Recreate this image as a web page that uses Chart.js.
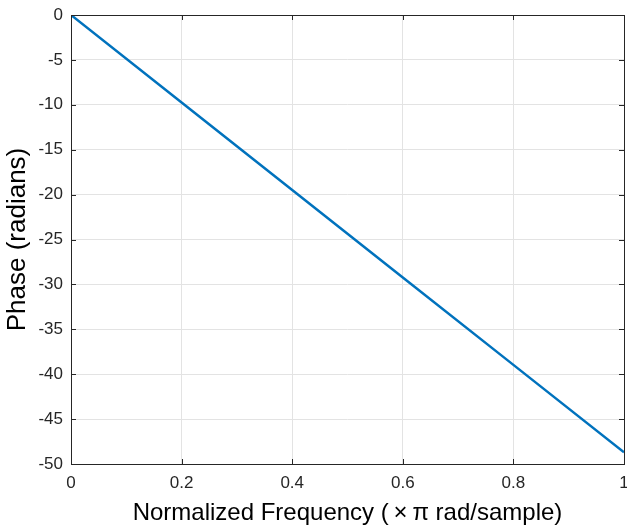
<!DOCTYPE html>
<html>
<head>
<meta charset="utf-8">
<script src="https://cdn.jsdelivr.net/npm/chart.js@4.4.1/dist/chart.umd.min.js"></script>
<style>
  html, body { margin: 0; padding: 0; background: #fff; }
  #wrap { width: 627px; height: 529px; }
</style>
</head>
<body>
<div id="wrap"><canvas id="phase-chart" width="627" height="529"></canvas></div>
<script>
// normalized frequency (x pi rad/sample) and phase
const freq = [0, 0.2, 0.4, 0.6, 0.8, 1.0];
const phase = [0, -9.74, -19.48, -29.22, -38.96, -48.69];
const xTicks = [0, 0.2, 0.4, 0.6, 0.8, 1];
const yTicks = [0, -5, -10, -15, -20, -25, -30, -35, -40, -45, -50];

const font = 'Liberation Sans, Arial, Helvetica, sans-serif';

// box + inward ticks like matlab
const boxTicks = {
  id: 'boxTicks',
  afterDraw(chart) {
    const { ctx, chartArea: a, scales } = chart;
    ctx.save();
    ctx.strokeStyle = '#262626';
    ctx.lineWidth = 1;
    ctx.beginPath();
    xTicks.forEach(v => {
      const px = Math.round(scales.x.getPixelForValue(v)) + 0.5;
      ctx.moveTo(px, a.bottom); ctx.lineTo(px, a.bottom - 5);
      ctx.moveTo(px, a.top); ctx.lineTo(px, a.top + 5);
    });
    yTicks.forEach(v => {
      const py = Math.round(scales.y.getPixelForValue(v)) + 0.5;
      ctx.moveTo(a.left, py); ctx.lineTo(a.left + 5, py);
      ctx.moveTo(a.right, py); ctx.lineTo(a.right - 5, py);
    });
    ctx.stroke();
    ctx.strokeRect(Math.round(a.left) + 0.5, Math.round(a.top) + 0.5,
      Math.round(a.right - a.left), Math.round(a.bottom - a.top));
    ctx.restore();
  }
};

const ctx = document.getElementById('phase-chart').getContext('2d');
const myChart = new Chart(ctx, {
  type: 'scatter',
  data: {
    datasets: [{
      data: freq.map((f, i) => ({ x: f, y: phase[i] })),
      showLine: true,
      borderColor: 'rgb(0,114,189)',
      borderWidth: 2.5,
      pointRadius: 0,
      fill: false
    }]
  },
  options: {
    responsive: false,
    animation: false,
    layout: { padding: { top: 15, right: 3, left: 0, bottom: 0 } },
    plugins: { legend: { display: false }, tooltip: { enabled: false } },
    scales: {
      x: {
        type: 'linear',
        min: 0, max: 1,
        afterBuildTicks: s => { s.ticks = xTicks.map(v => ({ value: v })); },
        afterFit: s => { s.height = 65; s.paddingLeft = 0; s.paddingRight = 0; },
        grid: { color: '#e3e3e3', drawTicks: false },
        border: { display: false },
        ticks: {
          color: '#262626',
          font: { family: font, size: 17 },
          padding: 9,
          maxRotation: 0,
          callback: v => String(v)
        },
        title: {
          display: true,
          text: 'Normalized Frequency (\u2009×\u2009π rad/sample)',
          color: '#000',
          font: { family: font, size: 24 },
          padding: { top: 0, bottom: 1 }
        }
      },
      y: {
        type: 'linear',
        min: -50, max: 0,
        afterBuildTicks: s => { s.ticks = yTicks.map(v => ({ value: v })); },
        afterFit: s => { s.width = 71; s.paddingTop = 0; s.paddingBottom = 0; },
        grid: { color: '#e3e3e3', drawTicks: false },
        border: { display: false },
        ticks: {
          color: '#262626',
          font: { family: font, size: 17 },
          padding: 8,
          callback: v => String(v)
        },
        title: {
          display: true,
          text: 'Phase (radians)',
          color: '#000',
          font: { family: font, size: 26 },
          padding: { top: 2, bottom: 0 }
        }
      }
    }
  },
  plugins: [boxTicks]
});
</script>
</body>
</html>
